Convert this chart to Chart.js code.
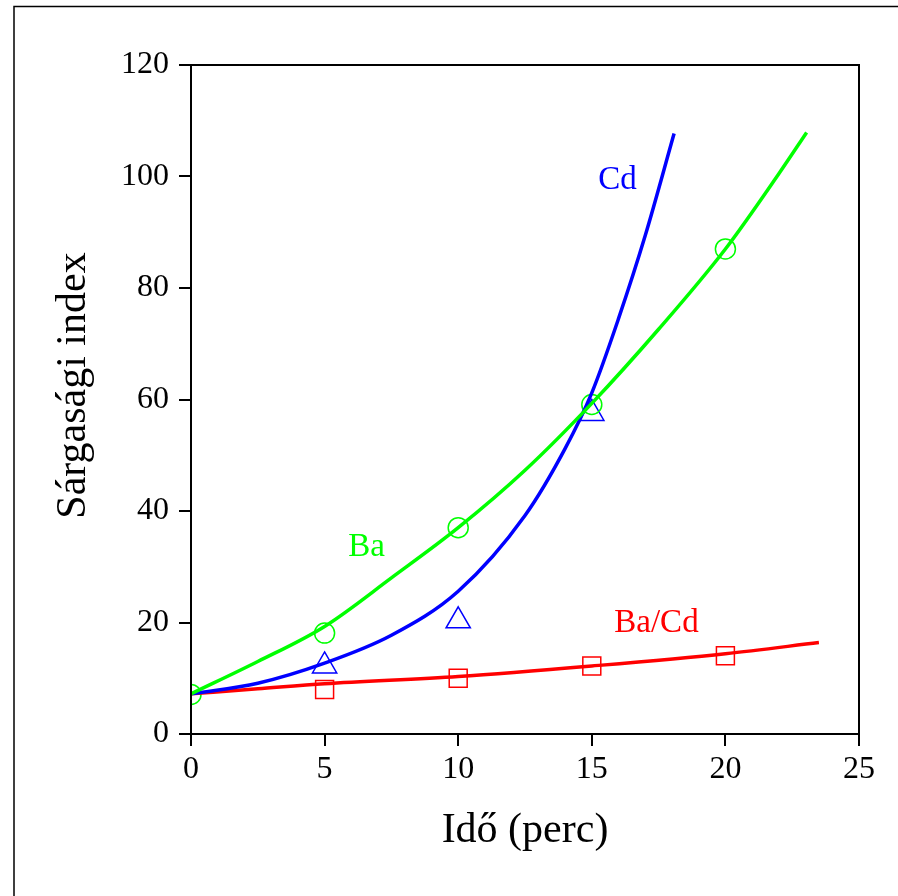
<!DOCTYPE html>
<html>
<head>
<meta charset="utf-8">
<script src="https://cdn.jsdelivr.net/npm/chart.js@4/dist/chart.umd.min.js"></script>
<style>
  html, body { margin: 0; padding: 0; background: #fff; }
  canvas { display: block; }
</style>
</head>
<body>
<canvas id="c" width="898" height="896"></canvas>
<script>
// ---- data ----
const timeTicks = [0, 5, 10, 15, 20, 25];
const indexTicks = [0, 20, 40, 60, 80, 100, 120];

// fitted curves
const baFitT   = [0, 2.5, 5, 7.5, 10, 12.5, 15, 17.5, 20, 22, 23.04];
const baFitV   = [7.2, 13, 19.3, 28, 37, 47.3, 59.3, 72.6, 87, 100.5, 107.9];
const cdFitT   = [0, 2.5, 5, 7.5, 10, 12.5, 14, 15, 16, 17, 18.08];
const cdFitV   = [7.2, 9.1, 12.7, 17.7, 25.6, 39.2, 51.2, 61.2, 74.5, 89.4, 107.7];
const baCdFitT = [0, 2.5, 5, 10, 15, 20, 23.5];
const baCdFitV = [7.2, 8.1, 9.0, 10.3, 12.2, 14.4, 16.4];

// measured points
const baT   = [0, 5, 10, 15, 20];
const baV   = [7.1, 18.1, 37, 59.1, 87];
const cdT   = [5, 10, 15];
const cdV   = [12.2, 20.3, 57.5];
const baCdT = [5, 10, 15, 20];
const baCdV = [8.0, 10.0, 12.2, 14.05];

// series names
const seriesNames = ['Ba', 'Cd', 'Ba/Cd'];

// ---- helpers ----
const pts = (xs, ys) => xs.map((x, i) => ({ x: x, y: ys[i] }));
const SERIF = '"Liberation Serif", "Times New Roman", "DejaVu Serif", serif';
const GREEN = 'rgb(0,255,0)', BLUE = 'rgb(0,0,255)', RED = 'rgb(255,0,0)';

const lineDs = (data, color) => ({
  data, showLine: true, borderColor: color, borderWidth: 3.5,
  pointRadius: 0, pointHoverRadius: 0, fill: false,
  cubicInterpolationMode: 'monotone'
});
const markDs = (data, color, style, r) => ({
  data, showLine: false, pointStyle: style, pointRadius: r, pointHoverRadius: r,
  borderColor: color, pointBorderColor: color, pointBackgroundColor: 'rgba(0,0,0,0)',
  pointBorderWidth: 1.5, borderWidth: 1.5
});

// text labels placed in data coordinates
const seriesLabelCfg = [
  { text: seriesNames[0], x: 6.57,  y: 33.5, color: GREEN },
  { text: seriesNames[1], x: 15.96, y: 99.4, color: BLUE },
  { text: seriesNames[2], x: 17.42, y: 19.8, color: RED }
];

const decor = {
  id: 'decor',
  afterDraw(chart) {
    const { ctx, chartArea: a, scales } = chart;
    ctx.save();
    // plot frame (top & right)
    ctx.strokeStyle = '#000';
    ctx.lineWidth = 2;
    ctx.strokeRect(a.left, a.top, a.right - a.left, a.bottom - a.top);
    // outer frame
    ctx.lineWidth = 1.5;
    ctx.strokeRect(14, 6.5, 1000, 1000);
    // series labels
    ctx.font = '33px ' + SERIF;
    ctx.textAlign = 'center';
    ctx.textBaseline = 'middle';
    seriesLabelCfg.forEach(l => {
      ctx.fillStyle = l.color;
      ctx.fillText(l.text, scales.x.getPixelForValue(l.x), scales.y.getPixelForValue(l.y));
    });
    // y axis title
    ctx.fillStyle = '#000';
    ctx.font = '42px ' + SERIF;
    ctx.translate(74, 385.5);
    ctx.rotate(-Math.PI / 2);
    ctx.fillText('Sárgasági index', 0, 0);
    ctx.restore();
  }
};

new Chart(document.getElementById('c'), {
  type: 'scatter',
  data: {
    datasets: [
      lineDs(pts(baFitT, baFitV), GREEN),
      lineDs(pts(cdFitT, cdFitV), BLUE),
      lineDs(pts(baCdFitT, baCdFitV), RED),
      markDs(pts(baT, baV), GREEN, 'circle', 10),
      markDs(pts(cdT, cdV), BLUE, 'triangle', 14),
      markDs(pts(baCdT, baCdV), RED, 'rect', 12.7)
    ]
  },
  options: {
    responsive: false,
    devicePixelRatio: 1,
    animation: false,
    layout: { padding: { left: 0, top: 65, right: 39, bottom: 0 } },
    plugins: { legend: { display: false }, tooltip: { enabled: false } },
    scales: {
      x: {
        type: 'linear', min: 0, max: 25,
        afterFit(s) { s.height = 162; },
        afterBuildTicks(s) { s.ticks = timeTicks.map(v => ({ value: v })); },
        ticks: { color: '#000', font: { family: SERIF, size: 32 }, padding: 4, maxRotation: 0 },
        grid: { drawOnChartArea: false, drawTicks: true, tickLength: 12, color: '#000', lineWidth: 2 },
        border: { display: true, color: '#000', width: 2 },
        title: { display: true, text: 'Idő (perc)', color: '#000',
                 font: { family: SERIF, size: 42 }, padding: { top: 0, bottom: 40 } }
      },
      y: {
        type: 'linear', min: 0, max: 120,
        afterFit(s) { s.width = 191; },
        afterBuildTicks(s) { s.ticks = indexTicks.map(v => ({ value: v })); },
        ticks: { color: '#000', font: { family: SERIF, size: 32 }, padding: 10 },
        grid: { drawOnChartArea: false, drawTicks: true, tickLength: 12, color: '#000', lineWidth: 2 },
        border: { display: true, color: '#000', width: 2 }
      }
    }
  },
  plugins: [decor]
});
</script>
</body>
</html>
